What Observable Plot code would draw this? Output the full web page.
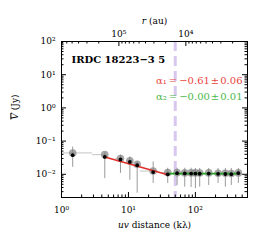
<!DOCTYPE html>
<html><head><meta charset="utf-8">
<script src="https://cdn.jsdelivr.net/npm/d3@7"></script>
<script src="https://cdn.jsdelivr.net/npm/@observablehq/plot@0.6"></script>
<style>body{margin:0;background:#fff} svg, svg text {font-family: "DejaVu Serif", serif !important;}</style>
</head><body><div id="chart"></div>
<script>
// ---- data ----
const uv      = [1.47, 4.43, 7.6, 10.5, 13.5, 23.4, 38.6, 53.3, 69.3, 86.3, 100, 116, 158, 218, 280, 344, 438];
const amp     = [0.0377, 0.0334, 0.0279, 0.0236, 0.0187, 0.0117, 0.0100, 0.0108, 0.0106, 0.0105, 0.0105, 0.0104, 0.0105, 0.0103, 0.0102, 0.0101, 0.0108];
const ampMean = [0.044, 0.039, 0.030, 0.0253, 0.0200, 0.0125, 0.0112, 0.0112, 0.0110, 0.0110, 0.0110, 0.0109, 0.0110, 0.0108, 0.0107, 0.0106, 0.0110];
const errHi   = [0.066, 0.044, 0.038, 0.0335, 0.0236, 0.0236, 0.0152, 0.0152, 0.0152, 0.0152, 0.015, 0.015, 0.015, 0.015, 0.015, 0.015, 0.015];
const errLo   = [0.0163, 0.0074, 0.0107, 0.0066, 0.0027, 0.0053, 0.0053, 0.0046, 0.0041, 0.0040, 0.0037, 0.0041, 0.0046, 0.0053, 0.0041, 0.0046, 0.0053];
const binLo   = [1.0, 2.9, 6.5, 9.5, 12.5, 15, 32, 48, 62, 80, 95, 110, 145, 200, 260, 320, 400];
const binHi   = [2.9, 4.8, 8.5, 11.5, 14.5, 28, 42, 58, 76, 92, 105, 125, 170, 235, 300, 370, 470];
const fit1X = [4.43, 38.6], fit1Y = [0.0334, 0.0097];
const fit2X = [38.6, 438],  fit2Y = [0.0105, 0.0105];
const beamUV = [50];
const title = "IRDC 18223\u22123 5";
const alpha1 = "\u03b1\u2081\u2009=\u2009\u22120.61\u200a\u00b1\u200a0.06";
const alpha2 = "\u03b1\u2082\u2009=\u2009\u22120.00\u200a\u00b1\u200a0.01";
const xMajor = [1, 10, 100];
const yMajor = [0.01, 0.1, 1, 10, 100];
const rMajor = [1e4, 1e5];
const auPerUV = 7.2e5; // r(au) = auPerUV / uv(kλ)

// ---- layout ----
const W = 265, H = 241, mL = 61, mR = 18, mT = 41, mB = 44;
const fw = W - mL - mR, fh = H - mT - mB;
const xDom = [1, 600], yDom = [0.002, 100];
const minors = (lo, hi) => { const o = []; for (let e = -4; e <= 7; e++) for (let k = 2; k <= 9; k++) { const v = k * 10 ** e; if (v > lo && v < hi) o.push(v); } return o; };
const xMinor = minors(...xDom), yMinor = minors(...yDom);
const rMinor = minors(auPerUV / xDom[1], auPerUV / xDom[0]);
const supMap = {"0":"⁰","1":"¹","2":"²","3":"³","4":"⁴","5":"⁵","6":"⁶","7":"⁷","8":"⁸","9":"⁹","-":"⁻"};
const fmt = v => "10" + String(Math.round(Math.log10(v))).split("").map(c => supMap[c]).join("");
const data = uv.map((u, i) => ({u, a: amp[i], m: ampMean[i], hi: errHi[i], lo: errLo[i], b0: binLo[i], b1: binHi[i]}));
const fit1 = fit1X.map((x, i) => ({x, y: fit1Y[i]}));
const fit2 = fit2X.map((x, i) => ({x, y: fit2Y[i]}));
const MAJ = 5, MIN = 2.5;

const svg = Plot.plot({
  width: W, height: H, marginLeft: mL, marginRight: mR, marginTop: mT, marginBottom: mB,
  style: {fontSize: "9px", background: "#fff", color: "#000"},
  x: {type: "log", domain: xDom},
  y: {type: "log", domain: yDom},
  marks: [
    Plot.ruleX(beamUV, {x: d => d, stroke: "#d8c8ee", strokeWidth: 3, strokeDasharray: "10,5"}),
    Plot.ruleY(data, {y: "m", x1: "b0", x2: "b1", stroke: "#c4c4c4", strokeWidth: 1}),
    Plot.ruleX(data, {x: "u", y1: "lo", y2: "hi", stroke: "#9a9a9a", strokeWidth: 1}),
    Plot.dot(data, {x: "u", y: "m", r: 3.8, fill: "#808080", fillOpacity: 0.7, stroke: "none"}),
    Plot.line(fit1, {x: "x", y: "y", stroke: "#e0302a", strokeWidth: 1.6}),
    Plot.line(fit2, {x: "x", y: "y", stroke: "#2ca02c", strokeWidth: 1.6}),
    Plot.dot(data, {x: "u", y: "a", r: 1.9, fill: "#000", stroke: "none"}),
    // ticks (inward, mirrored)
    Plot.tickX(xMajor, {x: d => d, insetTop: fh - MAJ, stroke: "#000"}),
    Plot.tickX(xMinor, {x: d => d, insetTop: fh - MIN, stroke: "#000"}),
    Plot.tickX(rMajor, {x: r => auPerUV / r, insetBottom: fh - MAJ, stroke: "#000"}),
    Plot.tickX(rMinor, {x: r => auPerUV / r, insetBottom: fh - MIN, stroke: "#000"}),
    Plot.tickY(yMajor, {y: d => d, insetRight: fw - MAJ, stroke: "#000"}),
    Plot.tickY(yMinor, {y: d => d, insetRight: fw - MIN, stroke: "#000"}),
    Plot.tickY(yMajor, {y: d => d, insetLeft: fw - MAJ, stroke: "#000"}),
    Plot.tickY(yMinor, {y: d => d, insetLeft: fw - MIN, stroke: "#000"}),
    Plot.frame({stroke: "#000", strokeWidth: 1}),
    Plot.axisX({ticks: xMajor, tickFormat: fmt, tickSize: 0, tickPadding: 9, label: null, fontSize: 9}),
    Plot.axisY({ticks: yMajor, tickFormat: fmt, tickSize: 0, tickPadding: 6, label: null, fontSize: 9}),
    Plot.text(rMajor, {x: r => auPerUV / r, text: fmt, frameAnchor: "top", dy: -11, fontSize: 9}),
    Plot.text(["uv distance (k\u03bb)"], {frameAnchor: "bottom", dy: 30, fontSize: 9, className: "xlab"}),
    Plot.text(["r (au)"], {frameAnchor: "top", dy: -24, fontSize: 9, className: "rlab"}),
    Plot.text(["V (Jy)"], {frameAnchor: "left", dx: -46, rotate: -90, fontSize: 9, className: "ylab"}),
    Plot.text([title], {frameAnchor: "top-left", dx: 10, dy: 14, textAnchor: "start", fontWeight: "bold", fontSize: 10}),
    Plot.text([alpha1], {frameAnchor: "top-right", dx: -5, dy: 35, textAnchor: "end", fill: "#e8453c", fontSize: 10}),
    Plot.text([alpha2], {frameAnchor: "top-right", dx: -5, dy: 51, textAnchor: "end", fill: "#4cb84c", fontSize: 10})
  ]
});
// italic parts of the axis labels
const s = d3.select(svg);
const italic = (cls, it, rest, deco) => s.selectAll(`.${cls} text`).each(function () {
  const t = d3.select(this); t.text(null);
  const a = t.append("tspan").attr("font-style", "italic").text(it);
  if (deco) a.style("text-decoration", "overline");
  t.append("tspan").text(rest);
});
italic("xlab", "uv", " distance (k\u03bb)");
italic("rlab", "r", " (au)");
italic("ylab", "V", " (Jy)", true);
document.getElementById("chart").append(svg);
</script></body></html>
